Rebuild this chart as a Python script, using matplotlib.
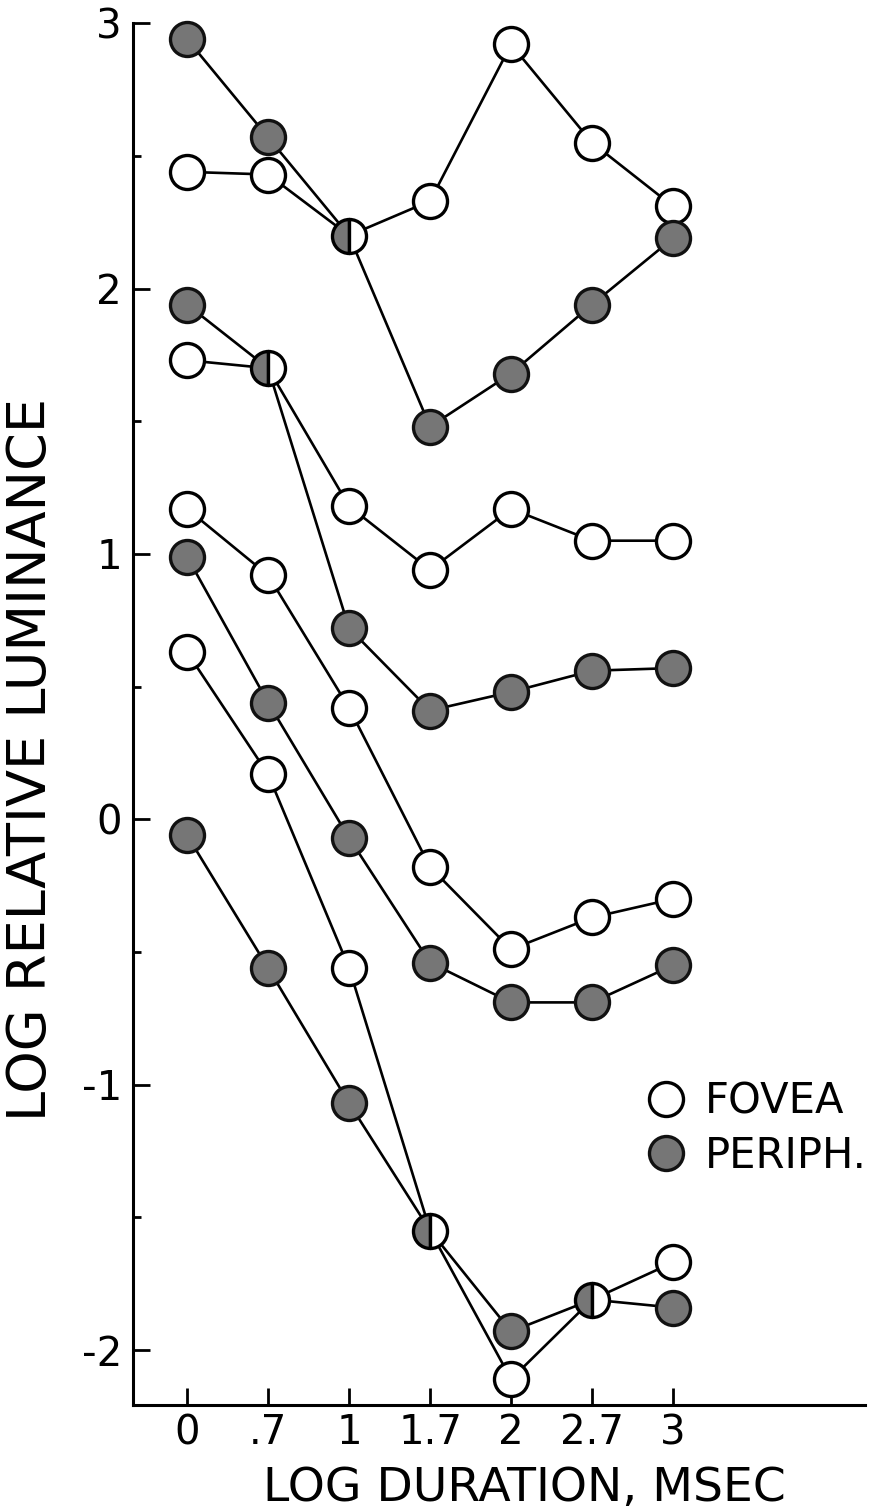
import matplotlib
matplotlib.use("Agg")
import matplotlib.pyplot as plt
from matplotlib.lines import Line2D
import numpy as np

plt.rcParams['font.family'] = ['DejaVu Sans']
plt.rcParams['axes.unicode_minus'] = False

# log duration (msec) categories on the x axis
durations = ['0', '.7', '1', '1.7', '2', '2.7', '3']

# log relative luminance, four fovea / periphery pairs
fovea_1 = [2.44, 2.43, 2.20, 2.33, 2.92, 2.55, 2.31]
periph_1 = [2.94, 2.57, 2.20, 1.48, 1.68, 1.94, 2.19]
fovea_2 = [1.73, 1.70, 1.18, 0.94, 1.17, 1.05, 1.05]
periph_2 = [1.94, 1.70, 0.72, 0.41, 0.48, 0.56, 0.57]
fovea_3 = [1.17, 0.92, 0.42, -0.18, -0.49, -0.37, -0.30]
periph_3 = [0.99, 0.44, -0.07, -0.54, -0.69, -0.69, -0.55]
fovea_4 = [0.63, 0.17, -0.56, -1.55, -2.11, -1.81, -1.67]
periph_4 = [-0.06, -0.56, -1.07, -1.55, -1.93, -1.81, -1.84]

pairs = [(fovea_1, periph_1), (fovea_2, periph_2),
         (fovea_3, periph_3), (fovea_4, periph_4)]

gray = '#767676'
ms = 24.5
mew = 2.4
lw = 1.9

fig = plt.figure(figsize=(8.81, 15.12), dpi=100)
ax = fig.add_axes([0.1510, 0.0708, 0.8309, 0.9140])

x = np.arange(len(durations))
for fov, per in pairs:
    fov = np.array(fov)
    per = np.array(per)
    ax.plot(x, fov, color='k', lw=lw, zorder=2, clip_on=False)
    ax.plot(x, per, color='k', lw=lw, zorder=2, clip_on=False)
    same = np.isclose(fov, per)
    ax.plot(x[~same], fov[~same], ls='none', marker='o', ms=ms, mfc='white',
            mec='k', mew=mew, zorder=3, clip_on=False)
    ax.plot(x[~same], per[~same], ls='none', marker='o', ms=ms, mfc=gray,
            mec='#111111', mew=mew, zorder=3, clip_on=False)
    # points where both curves coincide: half periphery, half fovea
    ax.plot(x[same], per[same], ls='none', marker='o', ms=ms, fillstyle='left',
            mfc=gray, markerfacecoloralt='white', mec='k', mew=mew,
            zorder=4, clip_on=False)

ax.set_xlim(-0.667, 8.37)
ax.set_ylim(-2.207, 3.001)
ax.set_xticks(x)
ax.set_xticklabels(durations)
ax.set_yticks([-2, -1, 0, 1, 2, 3])
ax.set_yticklabels(['-2', '-1', '0', '1', '2', '3'])
ax.set_yticks(np.arange(-1.5, 3, 1.0), minor=True)

for s in ['top', 'right']:
    ax.spines[s].set_visible(False)
for s in ['left', 'bottom']:
    ax.spines[s].set_linewidth(2.2)

ax.tick_params(axis='both', which='major', direction='in', length=12,
               width=2.0, labelsize=29, color='k')
ax.tick_params(axis='y', which='major', pad=8)
ax.tick_params(axis='x', which='major', pad=6)
ax.tick_params(axis='y', which='minor', direction='in', length=6, width=2.0)

ax.set_xlabel('LOG DURATION, MSEC', fontsize=34)
ax.xaxis.set_label_coords(0.535, -0.044)
ax.set_ylabel('LOG RELATIVE LUMINANCE', fontsize=39)
ax.yaxis.set_label_coords(-0.104, 0.467)

handles = [
    Line2D([], [], ls='none', marker='o', ms=ms, mfc='white', mec='k', mew=mew),
    Line2D([], [], ls='none', marker='o', ms=ms, mfc=gray, mec='#111111', mew=mew),
]
ax.legend(handles, ['FOVEA', 'PERIPH.'], loc='upper left',
          bbox_to_anchor=(0.705, 0.235), frameon=False, fontsize=30,
          handlelength=0.8, handletextpad=0.55, labelspacing=0.3,
          borderpad=0, borderaxespad=0)

fig.savefig('out.png', dpi=100)
